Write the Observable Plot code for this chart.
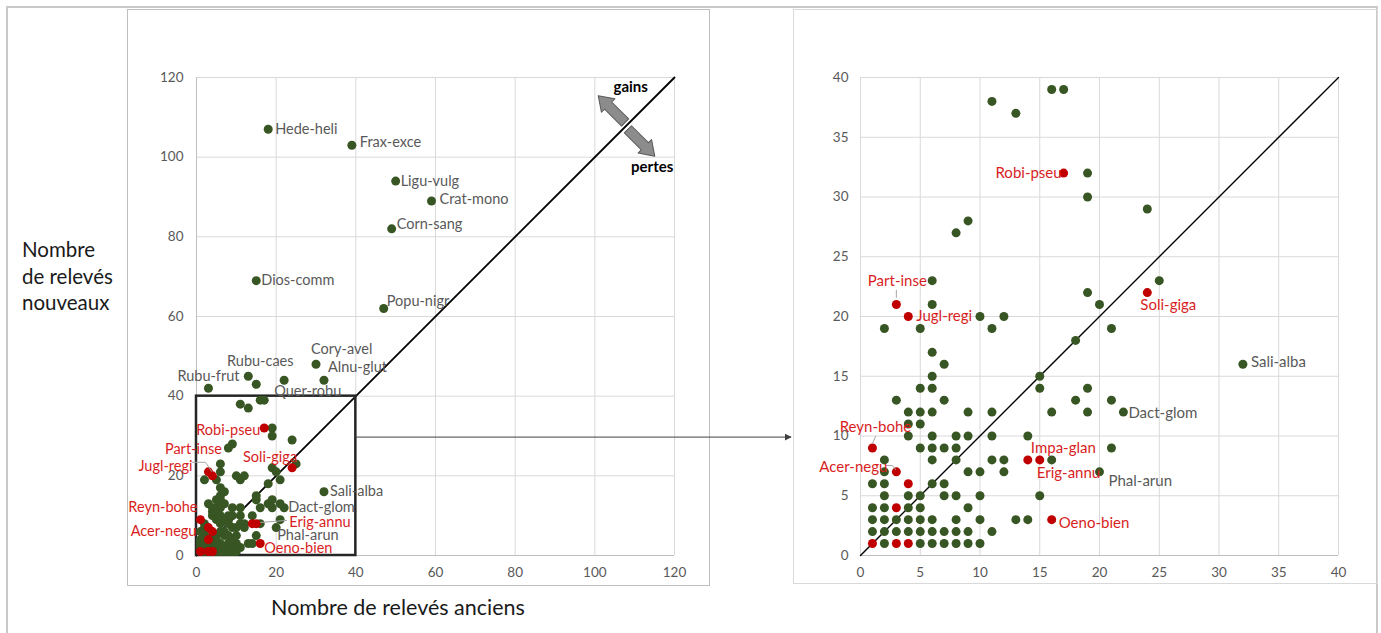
<!DOCTYPE html>
<html><head><meta charset="utf-8">
<script src="https://cdn.jsdelivr.net/npm/d3@7"></script>
<script src="https://cdn.jsdelivr.net/npm/@observablehq/plot@0.6"></script>
<style>
body{margin:0;background:#fff;font-family:Lato,"Open Sans",sans-serif;}
#wrap{position:relative;width:1381px;height:633px;overflow:hidden;background:#fff;}
.frame{position:absolute;box-sizing:border-box;pointer-events:none;}
.title{position:absolute;font-family:Lato,"Open Sans",sans-serif;color:#1a1a1a;}
</style></head><body><div id="wrap"></div>
<script>
// ---------- DATA ----------
// labelled species: code, old survey count (ancien), new survey count (nouveau), exotic?
const especes        = ["Hede-heli","Frax-exce","Ligu-vulg","Crat-mono","Corn-sang","Dios-comm","Popu-nigr","Cory-avel","Alnu-glut","Rubu-caes","Rubu-frut","Quer-robu","Sali-alba","Dact-glom","Phal-arun","Robi-pseu","Part-inse","Jugl-regi","Soli-giga","Reyn-bohe","Acer-negu","Impa-glan","Erig-annu","Oeno-bien"];
const especesAncien  = [18, 39, 50, 59, 49, 15, 47, 30, 32, 13, 3, 17, 32, 22, 20, 17, 3, 4, 24, 1, 3, 14, 15, 16];
const especesNouveau = [107,103, 94, 89, 82, 69, 62, 48, 44, 45, 42, 39, 16, 12, 7, 32, 21, 20, 22, 9, 7, 8, 8, 3];
const especesExotique= [false,false,false,false,false,false,false,false,false,false,false,false,false,false,false,true,true,true,true,true,true,true,true,true];

// other (unlabelled) native species
const autresIndigenesAncien = [
  2,5,6,7,8,9,10,
  1,2,3,4,5,6,7,8,9,11,
  1,2,3,4,5,6,8,10,13,14,
  1,2,4,5,9,
  2,4,5,7,8,10,15,
  1,2,6,7,
  2,9,10,12,
  2,6,8,11,12,16,
  5,6,7,8,21,
  4,6,8,9,11,14,
  4,5,
  4,5,6,9,11,16,19,
  3,7,18,21,
  5,6,15,19,
  6,15,
  7,
  6,
  18,
  2,5,11,21,
  10,12,
  6,20,
  19,
  6,25,
  8,9,24,19,19,13,11,16,15,22
];
const autresIndigenesNouveau = [
  1,1,1,1,1,1,1,
  2,2,2,2,2,2,2,2,2,2,
  3,3,3,3,3,3,3,3,3,3,
  4,4,4,4,4,
  5,5,5,5,5,5,5,
  6,6,6,6,
  7,7,7,7,
  8,8,8,8,8,8,
  9,9,9,9,9,
  10,10,10,10,10,10,
  11,11,
  12,12,12,12,12,12,12,
  13,13,13,13,
  14,14,14,14,
  15,15,
  16,
  17,
  18,
  19,19,19,19,
  20,20,
  21,21,
  22,
  23,23,
  27,28,29,30,32,37,38,39,43,44
];
// other (unlabelled) exotic species
const autresExotiquesAncien  = [1,3,4,3,4];
const autresExotiquesNouveau = [1,1,1,4,6];

// axis ticks
const ticksGauche = [0,20,40,60,80,100,120];
const ticksDroite = [0,5,10,15,20,25,30,35,40];
const zoomMax = 40;

// annotations (data coordinates of the left chart)
const flechesGainsPertes = [
  {label:"gains",  x:107.6, y:108.7, angle:-45},
  {label:"pertes", x:108.3, y:107.0, angle:135}
];
const textesGainsPertes = [
  {label:"gains",  x:109.0, y:117.6},
  {label:"pertes", x:114.4, y:97.5}
];
const connecteurY = 29.6;

// ---------- BUILD TABLE ----------
const points = [];
autresIndigenesAncien.forEach((a,i)=>points.push({code:"",ancien:a,nouveau:autresIndigenesNouveau[i],exo:false}));
especes.forEach((c,i)=>{ if(!especesExotique[i]) points.push({code:c,ancien:especesAncien[i],nouveau:especesNouveau[i],exo:false}); });
autresExotiquesAncien.forEach((a,i)=>points.push({code:"",ancien:a,nouveau:autresExotiquesNouveau[i],exo:true}));
especes.forEach((c,i)=>{ if(especesExotique[i]) points.push({code:c,ancien:especesAncien[i],nouveau:especesNouveau[i],exo:true}); });

const GREEN="#375623", RED="#c00000", REDTXT="#d81e1e", GRAYTXT="#595959", GRID="#d9d9d9";
const FONT="Lato, 'Open Sans', sans-serif";

// label styles per chart: code, anchor, dx, dy
const labelsGauche = [
 ["Hede-heli","start",7,0],["Frax-exce","start",8,-3],["Ligu-vulg","start",5,0],["Crat-mono","start",8,-2],
 ["Corn-sang","start",5,-5],["Dios-comm","start",5,0],["Popu-nigr","start",3,-7],["Cory-avel","start",-5,-15],
 ["Alnu-glut","start",4,-13],["Rubu-caes","middle",12,-15],["Rubu-frut","middle",0,-12],["Quer-robu","start",10,-9],
 ["Robi-pseu","end",-4,2],["Part-inse","middle",-15,-22],["Jugl-regi","end",-20,-9],["Soli-giga","end",5,-11],
 ["Sali-alba","start",6,0],["Reyn-bohe","end",-3,-12],["Dact-glom","start",4,0],["Acer-negu","end",-12,4],
 ["Erig-annu","start",33,-1],["Phal-arun","start",1,8],["Oeno-bien","start",4,5]
];
const labelsDroite = [
 ["Robi-pseu","end",-2,0],["Part-inse","middle",1,-23],["Jugl-regi","start",8,0],["Soli-giga","middle",21,13],
 ["Sali-alba","start",8,-2],["Dact-glom","start",5,1],["Reyn-bohe","middle",3,-21],["Acer-negu","end",-9,-5],
 ["Impa-glan","start",3,-12],["Erig-annu","start",-3,13],["Phal-arun","start",9,9],["Oeno-bien","start",7,4]
];
// leader lines (data coordinates)
const leadersGauche = [
 [[-1.1,23.4],[2.25,23.4],[3.8,21.1]],
 [[16.1,8.3],[22.6,8.8]]
];
const leadersDroite = [
 [[3.0,22.2],[3.0,21.6]],
 [[1.26,9.96],[1.0,9.37]],
 [[2.18,7.53],[2.68,7.53],[2.93,7.2]]
];

function labelMarks(cfg, size){
  return cfg.map(([code,anchor,dx,dy])=>{
    const d = points.find(p=>p.code===code);
    return Plot.text([d],{x:"ancien",y:"nouveau",text:"code",textAnchor:anchor,dx,dy,
      fill:d.exo?REDTXT:GRAYTXT,fontSize:size,fontFamily:FONT});
  });
}
function leaderMarks(list){
  return list.map(l=>Plot.line(l,{x:d=>d[0],y:d=>d[1],stroke:"#a6a6a6",strokeWidth:1}));
}
const blockArrow = {
  draw(context, l){
    const sw=5, hw=9.5, hl=14;
    context.moveTo(-sw,0);
    context.lineTo(-sw,-(l-hl));
    context.lineTo(-hw,-(l-hl));
    context.lineTo(0,-l);
    context.lineTo(hw,-(l-hl));
    context.lineTo(sw,-(l-hl));
    context.lineTo(sw,0);
    context.closePath();
  }
};
const baseStyle = {fontFamily:FONT,fontSize:"13.5px",color:GRAYTXT,background:"transparent",overflow:"visible"};

// ---------- LEFT CHART ----------
const gMax = ticksGauche[ticksGauche.length-1];
const left = Plot.plot({
  width:582,height:575,marginLeft:69,marginRight:35,marginTop:67,marginBottom:30,
  style:baseStyle,
  x:{domain:[0,gMax]},
  y:{domain:[0,gMax]},
  marks:[
    Plot.gridX(ticksGauche,{stroke:GRID,strokeOpacity:1}),
    Plot.gridY(ticksGauche,{stroke:GRID,strokeOpacity:1}),
    Plot.ruleY([0],{stroke:"#bfbfbf"}),
    Plot.ruleX([0],{stroke:"#bfbfbf"}),
    Plot.axisX(ticksGauche,{tickSize:0,tickPadding:12,label:null,fontSize:13.5}),
    Plot.axisY(ticksGauche,{tickSize:0,tickPadding:13,label:null,fontSize:13.5}),
    Plot.line([0,gMax],{x:d=>d,y:d=>d,stroke:"#000",strokeWidth:1.8}),
    Plot.rect([{x1:0,x2:zoomMax,y1:0,y2:zoomMax}],{x1:"x1",x2:"x2",y1:"y1",y2:"y2",fill:"none",stroke:"#262626",strokeWidth:2.5}),
    Plot.dot(points.filter(p=>!p.exo),{x:"ancien",y:"nouveau",r:4.5,fill:GREEN}),
    Plot.dot(points.filter(p=>p.exo),{x:"ancien",y:"nouveau",r:4.5,fill:RED}),
    ...leaderMarks(leadersGauche),
    ...labelMarks(labelsGauche, 14.5),
    Plot.vector(flechesGainsPertes,{x:"x",y:"y",length:38,rotate:"angle",anchor:"start",shape:blockArrow,fill:"#8c8c8c",stroke:"#595959",strokeWidth:1}),
    Plot.text(textesGainsPertes,{x:"x",y:"y",text:"label",fill:"#000",fontWeight:"bold",fontSize:15,fontFamily:FONT})
  ]
});

// ---------- RIGHT CHART ----------
const inZoom = points.filter(p=>p.ancien<=zoomMax && p.nouveau<=zoomMax);
const right = Plot.plot({
  width:583,height:573,marginLeft:67,marginRight:38,marginTop:67,marginBottom:28,
  style:baseStyle,
  x:{domain:[0,zoomMax]},
  y:{domain:[0,zoomMax]},
  marks:[
    Plot.gridX(ticksDroite,{stroke:GRID,strokeOpacity:1}),
    Plot.gridY(ticksDroite,{stroke:GRID,strokeOpacity:1}),
    Plot.ruleY([0],{stroke:"#bfbfbf"}),
    Plot.ruleX([0],{stroke:"#d9d9d9"}),
    Plot.axisX(ticksDroite,{tickSize:0,tickPadding:12,label:null,fontSize:13.5}),
    Plot.axisY(ticksDroite,{tickSize:0,tickPadding:12,label:null,fontSize:13.5}),
    Plot.line([0,zoomMax],{x:d=>d,y:d=>d,stroke:"#000",strokeWidth:1.4}),
    Plot.dot(inZoom.filter(p=>!p.exo),{x:"ancien",y:"nouveau",r:4.5,fill:GREEN}),
    Plot.dot(inZoom.filter(p=>p.exo),{x:"ancien",y:"nouveau",r:4.5,fill:RED}),
    ...leaderMarks(leadersDroite),
    ...labelMarks(labelsDroite, 15)
  ]
});

// ---------- LAYOUT ----------
const wrap = document.getElementById("wrap");
const LX=127, LY=10, RX=793, RY=10;
left.style.position="absolute"; left.style.left=LX+"px"; left.style.top=LY+"px";
right.style.position="absolute"; right.style.left=RX+"px"; right.style.top=RY+"px";
wrap.appendChild(left); wrap.appendChild(right);

function frame(x,y,w,h,c,bw){
  const d=document.createElement("div"); d.className="frame";
  Object.assign(d.style,{left:x+"px",top:y+"px",width:w+"px",height:h+"px",border:bw+"px solid "+c});
  wrap.appendChild(d);
}
frame(6,6,1372,640,"#c9c9c9",2);
frame(127,9,583,577,"#bfbfbf",1);
frame(793,9,585,575,"#d9d9d9",1);

// axis titles
const tx=document.createElement("div"); tx.className="title";
tx.textContent="Nombre de relevés anciens";
Object.assign(tx.style,{left:"198px",width:"400px",textAlign:"center",top:"594px",fontSize:"21.5px"});
wrap.appendChild(tx);
const ty=document.createElement("div"); ty.className="title";
ty.innerHTML="Nombre<br>de relevés<br>nouveaux";
Object.assign(ty.style,{left:"22px",top:"236px",lineHeight:"26.5px",fontSize:"20.5px"});
wrap.appendChild(ty);

// connector arrow from zoom box to right chart
const sx = LX + left.scale("x").apply(zoomMax);
const sy = LY + left.scale("y").apply(connecteurY);
const ex = RX - 2;
const ns="http://www.w3.org/2000/svg";
const ov=document.createElementNS(ns,"svg");
ov.setAttribute("width",1381); ov.setAttribute("height",633);
ov.style.position="absolute"; ov.style.left="0"; ov.style.top="0"; ov.style.pointerEvents="none";
ov.innerHTML=`<defs><marker id="ah" viewBox="0 0 10 10" refX="9" refY="5" markerWidth="7" markerHeight="7" orient="auto"><path d="M0,0L10,5L0,10z" fill="#404040"/></marker></defs>
<line x1="${sx}" y1="${sy}" x2="${ex}" y2="${sy}" stroke="#404040" stroke-width="1" marker-end="url(#ah)"/>`;
wrap.appendChild(ov);
</script></body></html>
